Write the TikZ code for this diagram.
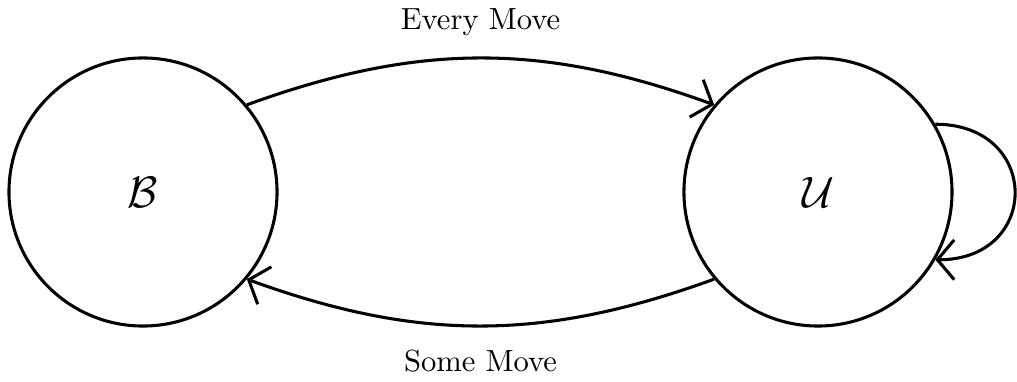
\documentclass[tikz,border=0pt]{standalone}
\usepackage{tikz}
\usetikzlibrary{arrows.meta, positioning}
\usepackage{amsmath}

\begin{document}
\begin{tikzpicture}[
    x=0.011486cm, y=0.011486cm,
    % Style definitions
    state/.style={circle, draw=black, line width=1pt, minimum size=3.08cm,
                  inner sep=0pt, font=\fontsize{15}{18}\selectfont},
    arrow/.style={-{Straight Barb[length=5.5pt, width=13pt]}, line width=1pt},
]
\useasboundingbox (0,0) rectangle (1017,382);

% States
\node[state] (B) at (143,190) {$\mathcal{B}$};
\node[state, right=4.64cm of B] (U) {$\mathcal{U}$};

% Transitions
\draw[arrow] (B.40) to[bend left=20] node[above=3.5pt] (every) {Every Move} (U.140);
\draw[arrow] (U.-140) to[bend left=20] node[below=4pt] (some) {Some Move} (B.-40);
\draw[arrow] (U.30) to[out=0, in=0, looseness=2] (U.-30);

\end{tikzpicture}
\end{document}
